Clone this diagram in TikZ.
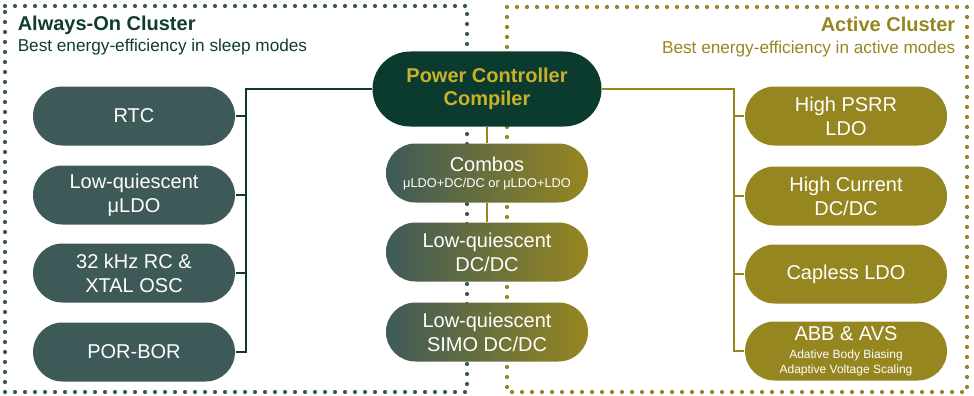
\documentclass[tikz,border=0pt]{standalone}
\usepackage{fontspec}
\setmainfont{Liberation Sans}
\usepackage{xcolor}
\usetikzlibrary{calc}

\definecolor{aoteal}{HTML}{3E5A58}
\definecolor{aodark}{HTML}{0B3A2E}
\definecolor{acgold}{HTML}{968620}
\definecolor{pcctext}{HTML}{C9B22A}
\definecolor{headgreen}{HTML}{103C30}

\begin{document}
\begin{tikzpicture}
[x=1pt,y=-1pt,line width=1.5pt,
pill/.style={rectangle,rounded corners=29.5pt,minimum width=202pt,minimum height=59pt,
  inner sep=0pt,align=center,text=white,font=\fontsize{20}{24}\selectfont},
aopill/.style={pill,fill=aoteal},
acpill/.style={pill,fill=acgold},
mixpill/.style={pill,left color=aoteal,right color=acgold},
dots/.style={line width=4.2pt,line cap=round,dash pattern=on 0pt off 10pt},
heading/.style={inner sep=0pt,font=\bfseries\fontsize{20}{24}\selectfont},
subheading/.style={inner sep=0pt,font=\fontsize{17.2}{20}\selectfont}]

\useasboundingbox (0,0) rectangle (974,396);

\draw[dots,aoteal] (5,6) -- (467,6) -- (467,392) -- (5,392) -- cycle; %always-on box
\draw[dots,acgold] (507,7) -- (967,7) -- (967,392) -- (507,392) -- cycle; %active box

\node[heading,anchor=base west,text=headgreen] (aohead) at (17,31) {Always-On Cluster};
\node[subheading,anchor=base west,text=headgreen] (aosub) at (17,52) {Best energy-efficiency in sleep modes};
\node[heading,anchor=base east,text=acgold] (achead) at (956,32) {Active Cluster};
\node[subheading,anchor=base east,text=acgold] (acsub) at (956,53) {Best energy-efficiency in active modes};

% always-on blocks
\node[aopill] (rtc) at (134,116) {RTC};
\node[aopill] (uldo) at (134,195) {Low-quiescent\\μLDO};
\node[aopill] (osc) at (134,273) {32 kHz RC \&\\XTAL OSC};
\node[aopill] (porbor) at (134,352) {POR-BOR};

% center column
\node[pill,fill=aodark,text=pcctext,font=\bfseries\fontsize{20}{23}\selectfont,
  minimum width=229pt,minimum height=75pt,rounded corners=37.5pt] (pcc) at (487,89) {Power Controller\\Compiler};
\node[mixpill] (combos) at (487,173) {Combos\\[-8pt]{\fontsize{12.8}{14}\selectfont μLDO+DC/DC or μLDO+LDO}};
\node[mixpill] (dcdc) at (487,252) {Low-quiescent\\DC/DC};
\node[mixpill] (simo) at (487,332) {Low-quiescent\\SIMO DC/DC};

% active blocks
\node[acpill] (psrr) at (846,116) {High PSRR\\LDO};
\node[acpill] (hcur) at (846,196) {High Current\\DC/DC};
\node[acpill] (capless) at (846,274) {Capless LDO};
\node[acpill] (abb) at (846,351) {ABB \& AVS\\[-6pt]{\fontsize{12}{14}\selectfont Adative Body Biasing}\\[-9pt]{\fontsize{12}{14}\selectfont Adaptive Voltage Scaling}};

% buses
\coordinate (ltop) at (246,89);
\coordinate (rtop) at (734,89);
\draw[aodark] (pcc.west) -- (ltop) |- (porbor.east);
\foreach \b in {rtc,uldo,osc}
  \draw[aodark] (\b.east) -- (\b.east -| ltop);
\draw[acgold] (pcc.east) -- (rtop) |- (abb.west);
\foreach \b in {psrr,hcur,capless}
  \draw[acgold] (\b.west) -- (\b.west -| rtop);
\draw[acgold] (pcc.south) -- (combos.north);
\draw[acgold] (combos.south) -- (dcdc.north);
\end{tikzpicture}
\end{document}
